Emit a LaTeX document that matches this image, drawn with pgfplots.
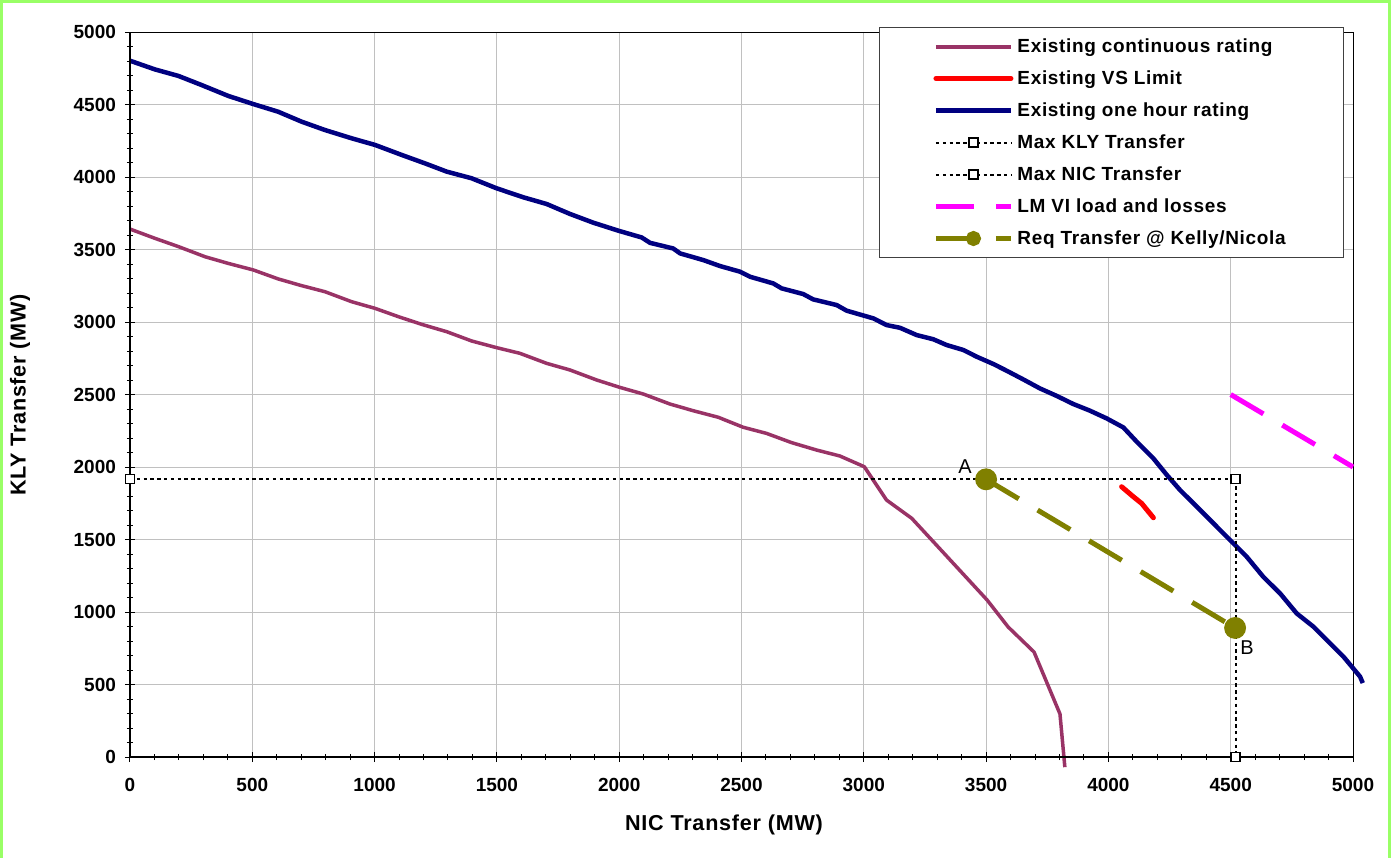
\documentclass[border=0pt]{standalone}
\usepackage{fontspec}
\setmainfont{Liberation Sans}
\newfontfamily\widesans[LetterSpace=3.5]{Liberation Sans}
\usepackage{pgfplots}
\pgfplotsset{compat=1.18}
\definecolor{cpurple}{HTML}{993366}
\definecolor{cnavy}{HTML}{000080}
\definecolor{cred}{HTML}{FF0000}
\definecolor{cpink}{HTML}{FF00FF}
\definecolor{colive}{HTML}{808000}
\definecolor{cframe}{HTML}{99FF66}
\definecolor{cgrid}{HTML}{C0C0C0}
\newcommand{\tickfont}{\fontsize{9.5}{11}\selectfont\bfseries}
\newcommand{\legfont}{\widesans\fontsize{9.5}{11}\selectfont\bfseries}
\newcommand{\labfont}{\widesans\fontsize{10.8}{12}\selectfont\bfseries}
\begin{document}
\begin{tikzpicture}
\path[use as bounding box] (-65pt,-50pt) rectangle (631pt,378.5pt);
\fill[white] (-65pt,-50pt) rectangle (631pt,378.5pt);
\draw[cframe, line width=1.6pt] (-64.4pt,-51pt) -- (-64.4pt,377.7pt) -- (629.8pt,377.7pt) -- (629.8pt,-51pt);
\begin{axis}[
  at={(0,0)}, anchor=south west,
  scale only axis, width=611.5pt, height=362.5pt,
  xmin=0, xmax=5000, ymin=0, ymax=5000,
  xtick={0,500,...,5000}, ytick={0,500,...,5000},
  minor x tick num=4, minor y tick num=4,
  tick pos=left, tick align=center,
  major tick length=5pt, minor tick length=3pt,
  every tick/.style={black, line width=0.5pt},
  grid=major, major grid style={cgrid, line width=0.5pt},
  axis line style={line width=0.5pt},
  clip=false,
  /pgf/number format/assume math mode=true,
  /pgf/number format/1000 sep={},
  ticklabel style={font=\tickfont},
  xticklabel style={yshift=-4.5pt},
  yticklabel style={xshift=-1pt},
  xlabel={NIC Transfer (MW)}, ylabel={KLY Transfer (MW)},
  label style={font=\labfont},
  x label style={at={(axis description cs:0.4857,-0.0938)}, anchor=center},
  y label style={at={(axis description cs:-0.0899,0.4993)}, anchor=center, rotate=0},
  legend cell align=left,
  legend image code/.code={\draw[mark repeat=2,mark phase=2,#1] plot coordinates {(0pt,0pt) (18.75pt,0pt) (37.5pt,0pt)};},
  legend style={at={(axis description cs:0.6124,1.0069)}, anchor=north west,
    draw=black!75, line width=0.5pt, font=\legfont,
    inner xsep=27pt, inner ysep=1.5pt, row sep=0pt,
    nodes={inner ysep=0pt, text height=11pt, text depth=5pt}},
]
\addplot[cpurple, line width=1.75pt, line join=round,
  legend image code/.code={\draw[cpurple, line width=2pt] (0pt,0pt) -- (37.5pt,0pt);}] coordinates {
(0,3641)(102,3577)(198,3520)(307,3450)(402,3404)(504,3359)(606,3297)(701,3251)
(797,3209)(906,3140)(1002,3094)(1097,3037)(1192,2984)(1295,2933)(1397,2869)
(1499,2823)(1594,2784)(1703,2715)(1799,2669)(1908,2600)(2003,2549)(2099,2503)
(2208,2434)(2303,2388)(2405,2343)(2507,2274)(2602,2232)(2705,2168)(2807,2117)
(2902,2076)(3002,2002)(3093,1772)(3196,1646)(3300,1456)(3504,1083)(3590,897)
(3696,724)(3802,297)(3822,-70)};
\addlegendentry{Existing continuous rating}
\addplot[cred, line width=2.5pt, line cap=round, line join=round] coordinates {
(4054,1864)(4102,1795)(4136,1749)(4184,1650)};
\addlegendentry{Existing VS Limit}
\addplot[cnavy, line width=2.25pt, line join=round] coordinates {
(0,4802)(102,4742)(198,4697)(293,4634)(402,4559)(504,4503)(606,4450)(701,4382)
(797,4324)(906,4267)(1002,4221)(1111,4152)(1206,4094)(1295,4037)(1397,3991)
(1499,3922)(1608,3860)(1703,3814)(1799,3745)(1894,3685)(1996,3630)(2092,3583)
(2126,3546)(2221,3507)(2249,3473)(2344,3427)(2412,3386)(2494,3347)(2535,3312)
(2630,3266)(2664,3232)(2752,3193)(2793,3156)(2889,3117)(2930,3078)(3039,3025)
(3093,2979)(3148,2960)(3216,2910)(3284,2881)(3339,2841)(3407,2807)(3461,2761)
(3530,2710)(3584,2664)(3652,2604)(3720,2542)(3789,2490)(3857,2434)(3925,2388)
(3993,2335)(4061,2273)(4116,2174)(4184,2059)(4239,1945)(4293,1841)(4348,1749)
(4416,1634)(4497,1497)(4565,1382)(4633,1243)(4702,1128)(4770,990)(4838,899)
(4906,784)(4961,692)(5029,554)(5040,510)};
\addlegendentry{Existing one hour rating}
\addplot[black, line width=1pt, dash pattern=on 1.7pt off 1.7pt, mark=square*,
  mark size=2.25pt, mark options={solid, fill=white, line width=0.6pt}]
  coordinates {(0,1915)(4520,1915)};
\addlegendentry{Max KLY Transfer}
\addplot[black, line width=1pt, dash pattern=on 1.7pt off 1.7pt, mark=square*,
  mark size=2.25pt, mark options={solid, fill=white, line width=0.6pt}]
  coordinates {(4520,1915)(4520,0)};
\addlegendentry{Max NIC Transfer}
\addplot[cpink, line width=2.5pt, dash pattern=on 19pt off 11pt] coordinates {(4500,2500)(5000,2000)};
\addlegendentry{LM VI load and losses}
\addplot[colive, line width=2.5pt, dash pattern=on 19pt off 11pt, mark=*, mark size=4.2pt,
  mark options={solid}, legend image post style={mark size=2.5pt}] coordinates {(3500,1915)(4518,890)};
\addlegendentry{Req Transfer @ Kelly/Nicola}
\draw[line width=1pt] (rel axis cs:0,1) -- (rel axis cs:0,0) -- (rel axis cs:1,0);
\node[font=\fontsize{10}{12}\selectfont] at (axis cs:3414,2000) {A};
\node[font=\fontsize{10}{12}\selectfont] at (axis cs:4567,752) {B};
\end{axis}
\end{tikzpicture}
\end{document}
